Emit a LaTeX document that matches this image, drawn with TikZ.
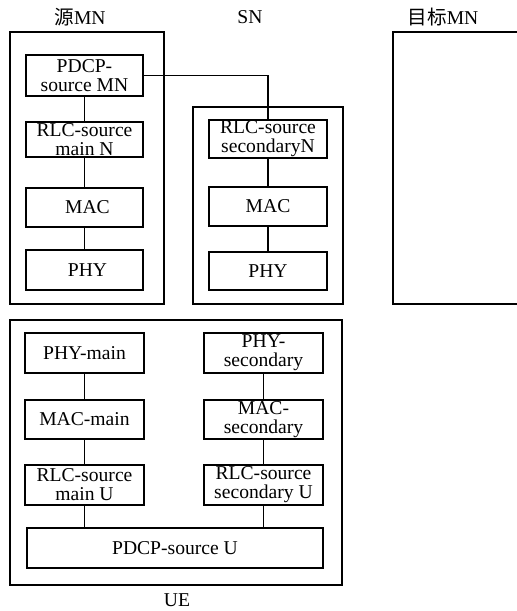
\documentclass[tikz,border=0pt]{standalone}
\usepackage{fontspec}
\setmainfont{Liberation Serif}
\newfontfamily\cjk{Noto Sans CJK SC}
\begin{document}
\begin{tikzpicture}[x=1pt,y=-1pt,
  lw/.style={line width=1.6pt},
  box/.style={draw,lw,inner sep=0pt,align=center,font=\fontsize{19.6}{18.8}\selectfont},
  outer/.style={draw,lw,inner sep=0pt},
  lbl/.style={inner sep=0pt,font=\fontsize{19.6}{19}\selectfont},
  conn/.style={lw}]
\useasboundingbox (0,0) rectangle (517,611);
% titles
\node[lbl] (tsrc) at (80,17) {{\cjk 源}MN};
\node[lbl] (tsn) at (250,17) {SN};
\node[lbl] (ttgt) at (443,17) {{\cjk 目标}MN};
\node[lbl] (tue) at (177,600) {UE};
% source MN
\node[outer,minimum width=154pt,minimum height=272pt] (src) at (87,168) {};
\node[box,minimum width=117pt,minimum height=41pt] (pdcp) at (84.5,75.5) {PDCP-\\source MN};
\node[box,minimum width=117pt,minimum height=35pt] (rlcm) at (84.5,139.5) {RLC-source\\main N};
\node[box,minimum width=117pt,minimum height=39pt] (macm) at (84.5,207.5) {\hspace*{6pt}MAC};
\node[box,minimum width=117pt,minimum height=40pt] (phym) at (84.5,270) {\hspace*{6pt}PHY};
% SN
\node[outer,minimum width=150pt,minimum height=197pt] (sn) at (268,205.5) {};
\node[box,minimum width=118pt,minimum height=38pt] (rlcs) at (268,139) {RLC-source\\secondaryN};
\node[box,minimum width=118pt,minimum height=39pt] (macs) at (268,206.5) {MAC};
\node[box,minimum width=118pt,minimum height=38pt] (phys) at (268,271) {PHY};
% target MN (cut at right edge)
\coordinate (t1) at (518,32);
\coordinate (t2) at (393,32);
\coordinate (t3) at (393,304);
\coordinate (t4) at (518,304);
\draw[lw] (t1) -- (t2) -- (t3) -- (t4);
% UE
\node[outer,minimum width=332pt,minimum height=265pt] (ue) at (176,452.5) {};
\node[box,minimum width=119pt,minimum height=40pt] (phyu) at (84.5,353) {PHY-main};
\node[box,minimum width=119pt,minimum height=39pt] (macu) at (84.5,419.5) {MAC-main};
\node[box,minimum width=119pt,minimum height=40pt] (rlcu) at (84.5,485) {RLC-source\\main U};
\node[box,minimum width=119pt,minimum height=40pt] (phyus) at (263.5,353) {PHY-\\secondary};
\node[box,minimum width=119pt,minimum height=39pt] (macus) at (263.5,419.5) {MAC-\\secondary};
\node[box,minimum width=119pt,minimum height=40pt] (rlcus) at (263.5,485) {RLC-source\\secondary U};
\node[box,minimum width=296pt,minimum height=40pt] (pdcpu) at (175,548) {PDCP-source U};
% connectors
\draw[conn] (pdcp) -- (rlcm);
\draw[conn] (rlcm) -- (macm);
\draw[conn] (macm) -- (phym);
\draw[conn] (pdcp.east) -| (rlcs.north);
\draw[conn] (rlcs) -- (macs);
\draw[conn] (macs) -- (phys);
\draw[conn] (phyu) -- (macu);
\draw[conn] (macu) -- (rlcu);
\draw[conn] (phyus) -- (macus);
\draw[conn] (macus) -- (rlcus);
\draw[conn] (rlcu.south) -- (rlcu.south |- pdcpu.north);
\draw[conn] (rlcus.south) -- (rlcus.south |- pdcpu.north);
\end{tikzpicture}
\end{document}
